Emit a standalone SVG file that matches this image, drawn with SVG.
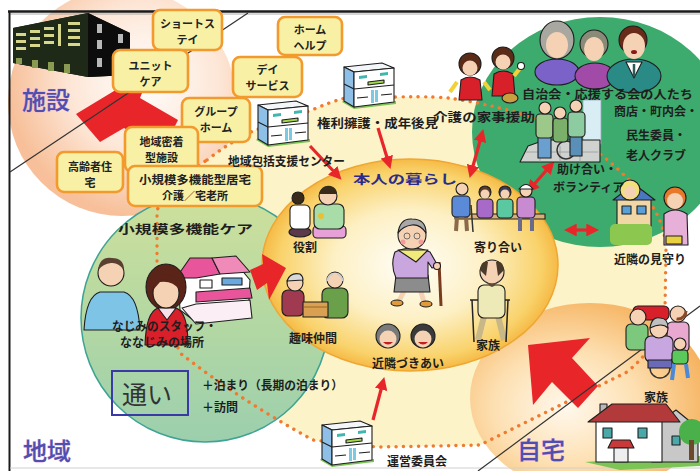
<svg xmlns="http://www.w3.org/2000/svg" width="700" height="471" viewBox="0 0 700 471">
<defs>
<style>
.lbl{font-family:"Noto Sans CJK JP","Noto Sans",sans-serif;font-weight:700;fill:#1e1e1e;font-size:12px}
.box rect{fill:#f8f0a4;stroke:#f29a2e;stroke-width:2.6}
.box text{font-family:"Noto Sans CJK JP","Noto Sans",sans-serif;font-weight:700;font-size:11px;fill:#222;text-anchor:middle}
.area{font-family:"Noto Sans CJK JP","Noto Sans",sans-serif;font-weight:500;font-size:24px;fill:#4f4fae;stroke:#e0a6de;stroke-width:0.7;paint-order:stroke}
.ol{stroke:#1e1e1e;stroke-width:1.1;stroke-linejoin:round}
.skin{fill:#f6d2b4}
.dots{fill:none;stroke:#f07a2e;stroke-width:3.4;stroke-linecap:round;stroke-dasharray:0.1 7.4}
.arr{stroke:#e8262a;stroke-width:3.2;fill:none}
.mid{text-anchor:middle}
</style>
<radialGradient id="gPeach" cx="0.6" cy="0.4" r="0.6">
<stop offset="0" stop-color="#ffffff"/>
<stop offset="0.55" stop-color="#fde6d6"/>
<stop offset="1" stop-color="#f7c09a"/>
</radialGradient>
<radialGradient id="gHome" cx="0.4" cy="0.55" r="0.6">
<stop offset="0" stop-color="#fff8ec"/>
<stop offset="0.5" stop-color="#fde0b2"/>
<stop offset="1" stop-color="#f6b462"/>
</radialGradient>
<radialGradient id="gCore" cx="0.5" cy="0.5" r="0.52">
<stop offset="0" stop-color="#fffef8"/>
<stop offset="0.5" stop-color="#fdf0c4"/>
<stop offset="0.85" stop-color="#f9d26a"/>
<stop offset="1" stop-color="#f4b23a"/>
</radialGradient>
<linearGradient id="gCare" x1="0" y1="0" x2="0" y2="1">
<stop offset="0" stop-color="#cfe09c"/>
<stop offset="0.5" stop-color="#b4d8a2"/>
<stop offset="1" stop-color="#9ccfae"/>
</linearGradient>
<marker id="ah" viewBox="0 0 10 10" refX="6" refY="5" markerWidth="4" markerHeight="4" orient="auto-start-reverse">
<path d="M0,0 L10,5 L0,10 z" fill="#e8262a"/>
</marker>
<g id="office">
<polygon points="0,40 12,47 54,42 54,39 12,44 2,38" fill="#7cc456"/>
<polygon points="2,5 40,1 52,6 12,10" fill="#f3f7fa" class="ol"/>
<polygon points="2,5 12,10 12,45 2,39" fill="#8ebfe6" class="ol"/>
<polygon points="12,10 52,6 52,40 12,45" fill="#ffffff" class="ol"/>
<line x1="12" y1="27" x2="52" y2="23" class="ol"/>
<line x1="2" y1="22" x2="12" y2="27" class="ol"/>
<polygon points="17,14 25,13 25,16 17,17" fill="#3fb6b0"/>
<polygon points="38,11 46,10 46,13 38,14" fill="#3fb6b0"/>
<polygon points="26,20 42,18 42,21 26,23" fill="#a6d84a" class="ol"/>
<rect x="29" y="28" width="3" height="13" fill="#7cc9e0"/>
<rect x="33" y="28" width="3" height="12" fill="#7cc9e0"/>
<line x1="15" y1="36" x2="26" y2="35" class="ol"/>
<line x1="39" y1="33" x2="50" y2="32" class="ol"/>
</g>
</defs>

<rect width="700" height="471" fill="#ffffff"/>

<!-- areas -->
<g id="areas">
<circle cx="122" cy="102" r="114" fill="url(#gPeach)"/>
<path d="M207,160 Q230,142 253,131 L312,110 Q330,102 345,98 L395,97 Q440,96 455,99 Q500,106 540,120 Q590,140 627,178 Q665,210 666,250 L665,310 Q660,345 627,372 L480,445 Q440,446 377,447 L313,440 Q240,400 180,353 Q160,300 157,265 L157,210 Q175,180 207,160 Z" fill="#fcf3c8"/>
<ellipse cx="590" cy="398" rx="120" ry="95" fill="url(#gHome)"/>
<ellipse cx="600" cy="132" rx="128" ry="115" fill="#3dab6d"/>
<circle cx="205" cy="318" r="124" fill="url(#gCare)" stroke="#3fa394" stroke-width="1.5"/>
<ellipse cx="410" cy="265" rx="148" ry="106" fill="url(#gCore)" stroke="#f0a632" stroke-width="1.5"/>
<path class="dots" d="M207,160 Q230,142 253,131 L312,110 Q330,102 345,98 L395,97 Q440,96 455,99 Q500,106 540,120 Q590,140 627,178 Q665,210 666,250 L665,310 Q660,345 627,372 L480,445 Q440,446 377,447 L313,440 Q240,400 180,353 Q160,300 157,265 L157,210 Q175,180 207,160"/>
</g>

<!-- frame -->
<g id="frame" fill="none">
<line x1="8" y1="11.5" x2="700" y2="11.5" stroke="#1a1a1a" stroke-width="2.5"/>
<line x1="10" y1="14" x2="700" y2="14" stroke="#9a9a9a" stroke-width="0.8"/>
<line x1="9.5" y1="11" x2="9.5" y2="471" stroke="#1a1a1a" stroke-width="2"/>
<line x1="10" y1="468" x2="700" y2="468" stroke="#d0d0d0" stroke-width="1"/>
</g>

<!-- facility building -->
<g id="facility-building">
<polygon points="13,28 88,13 130,33 130,75 88,77 13,63" fill="#111611"/>
<polygon points="13,28 88,13 88,77 13,63" fill="#1e2a17"/>
<polygon points="88,13 130,33 130,75 88,77" fill="#0c0c0c"/>
<g fill="#d6d78a">
<rect x="16" y="33" width="10" height="3"/><rect x="16" y="40" width="10" height="3"/><rect x="16" y="47" width="10" height="3"/>
<rect x="30" y="30" width="10" height="3"/><rect x="30" y="37" width="10" height="3"/><rect x="30" y="44" width="10" height="3"/>
<rect x="44" y="27" width="10" height="3"/><rect x="44" y="34" width="10" height="3"/><rect x="44" y="41" width="10" height="3"/>
<rect x="58" y="24" width="3" height="22"/>
<rect x="68" y="22" width="12" height="3"/><rect x="68" y="29" width="12" height="3"/><rect x="68" y="36" width="12" height="3"/><rect x="68" y="43" width="12" height="3"/>
</g>
<g fill="#8a9a50"><rect x="16" y="58" width="6" height="6"/><rect x="32" y="60" width="6" height="8"/><rect x="48" y="62" width="6" height="9"/><rect x="64" y="64" width="6" height="9"/></g>
<g fill="#b8b8b8"><rect x="97" y="24" width="5" height="9"/><rect x="97" y="40" width="5" height="9"/><rect x="97" y="58" width="5" height="9"/><rect x="118" y="34" width="5" height="9"/><rect x="118" y="50" width="5" height="9"/></g>
</g>

<!-- large arrows -->
<g id="big-arrows" fill="#e8262a">
<polygon points="76,114 152,68 140,98 178,120 162,152 124,128 100,142"/>
<polygon points="286,268 262,254 263,264 250,270 257,290 267,283 269,300"/>
<polygon points="528,345 590,338 572,358 598,386 578,408 552,382 533,405"/>
</g>

<!-- dividing lines -->
<g id="dividers" stroke="#333" stroke-width="1.2">
<line x1="248" y1="13" x2="10" y2="172"/>
<line x1="700" y1="306" x2="478" y2="471"/>
</g>

<!-- connectors -->
<g id="connectors">
<line class="arr" x1="310" y1="146" x2="338" y2="176" marker-end="url(#ah)"/>
<line class="arr" x1="378" y1="128" x2="389" y2="164" marker-end="url(#ah)"/>
<line class="arr" x1="482" y1="134" x2="471" y2="173" marker-start="url(#ah)" marker-end="url(#ah)"/>
<line class="arr" x1="551" y1="165" x2="530" y2="189" marker-start="url(#ah)" marker-end="url(#ah)"/>
<line class="arr" x1="569" y1="230" x2="594" y2="230" marker-start="url(#ah)" marker-end="url(#ah)"/>
<line class="arr" x1="373" y1="420" x2="383" y2="382" marker-end="url(#ah)"/>
</g>

<!-- offices -->
<g id="center-office"><use href="#office" x="256" y="100"/></g>
<g id="rights-office"><use href="#office" x="342" y="62"/></g>
<g id="committee-office"><use href="#office" x="320" y="420"/></g>

<!-- helpers (housework) -->
<g id="housework-figures">
<path d="M459,100 L461,80 Q470,74 480,80 L482,100 Z" fill="#d8202a" class="ol"/>
<path d="M457,82 L450,92 M484,82 L490,90" stroke="#f2d23a" stroke-width="4"/>
<circle cx="470" cy="64" r="11" fill="#5a2c18" class="ol"/>
<circle cx="470" cy="68" r="7.5" class="skin"/>
<path d="M492,96 L494,74 Q503,68 513,74 L515,96 Z" fill="#d8202a" class="ol"/>
<path d="M514,76 L520,68" stroke="#f2d23a" stroke-width="4"/>
<circle cx="521" cy="66" r="3.5" fill="#fff" class="ol"/>
<circle cx="503" cy="58" r="11" fill="#5a2c18" class="ol"/>
<circle cx="503" cy="62" r="7.5" class="skin"/>
<ellipse cx="510" cy="98" rx="8" ry="5" fill="#c8a040" class="ol"/>
</g>

<!-- association members -->
<g id="association-figures">
<ellipse cx="557" cy="72" rx="22" ry="13" fill="#7a62c8" class="ol"/>
<ellipse cx="557" cy="40" rx="17" ry="19" fill="#a8a8a0" class="ol"/>
<ellipse cx="557" cy="45" rx="11" ry="13" class="skin"/>
<ellipse cx="595" cy="76" rx="20" ry="13" fill="#a24aa8" class="ol"/>
<circle cx="594" cy="44" r="14" fill="#8a8a78" class="ol"/>
<ellipse cx="594" cy="49" rx="10" ry="12" class="skin"/>
<ellipse cx="634" cy="76" rx="27" ry="17" fill="#2a8a86" class="ol"/>
<polygon points="626,62 642,62 634,78" fill="#ffffff" class="ol"/>
<line x1="634" y1="64" x2="634" y2="76" stroke="#2a5a5a" stroke-width="2.5"/>
<circle cx="633" cy="40" r="14" fill="#6a2a1a" class="ol"/>
<ellipse cx="634" cy="46" rx="11" ry="13" class="skin"/>
<ellipse cx="634" cy="52" rx="3" ry="2" fill="#8a1a1a"/>
</g>

<!-- mutual aid scene -->
<g id="aid-scene">
<rect x="583" y="100" width="18" height="44" fill="#d8eef4" stroke="#9ab" stroke-width="0.8"/>
<polygon points="520,162 528,146 545,140 600,140 600,162" fill="#cfd2cf" class="ol"/>
<path d="M526,152 L598,152 M540,146 L540,162 M560,146 L560,162 M580,146 L580,162" stroke="#999" stroke-width="0.8"/>
<rect x="538" y="136" width="13" height="22" fill="#6aa0d0" class="ol"/>
<rect x="536" y="114" width="17" height="24" rx="4" fill="#9cc88a" class="ol"/>
<circle cx="545" cy="108" r="6" class="skin ol"/>
<circle cx="566" cy="150" r="9" fill="none" stroke="#333" stroke-width="1.5"/>
<rect x="553" y="118" width="15" height="24" rx="4" fill="#7ab06a" class="ol"/>
<circle cx="560" cy="113" r="6" class="skin ol"/>
<rect x="570" y="134" width="12" height="22" fill="#5a8fb8" class="ol"/>
<rect x="568" y="112" width="17" height="25" rx="4" fill="#8ccca0" class="ol"/>
<circle cx="576" cy="106" r="6" class="skin ol"/>
</g>

<!-- neighbour watch figures -->
<g id="watch-figures">
<rect x="617" y="198" width="34" height="28" fill="#f1d6a6" class="ol"/>
<polygon points="613,200 634,184 655,200" fill="#4a78c0" class="ol"/>
<rect x="622" y="206" width="9" height="8" fill="#5aa0d8" class="ol"/>
<rect x="637" y="206" width="9" height="8" fill="#5aa0d8" class="ol"/>
<circle cx="630" cy="190" r="10" fill="#f2e07a" class="ol"/>
<circle cx="630" cy="192" r="6" class="skin"/>
<rect x="610" y="224" width="42" height="21" rx="5" fill="#8cc850"/>
<path d="M664,245 L664,214 Q675,206 687,214 L688,245 Z" fill="#e6b0d8" class="ol"/>
<circle cx="675" cy="198" r="11" fill="#e8782a" class="ol"/>
<circle cx="675" cy="201" r="8" class="skin"/>
<rect x="666" y="236" width="16" height="8" fill="#e8d040" class="ol"/>
</g>

<!-- gathering figures -->
<g id="gathering-figures">
<rect x="455" y="214" width="90" height="5" fill="#d8b070" class="ol"/>
<path d="M457,217 L456,231 M466,217 L467,231" stroke="#8a6a4a" stroke-width="4"/>
<rect x="452" y="196" width="18" height="21" rx="4" fill="#5a8ad8" class="ol"/>
<line x1="471" y1="205" x2="473" y2="232" stroke="#333" stroke-width="1.5"/>
<circle cx="462" cy="189" r="6" class="skin ol"/>
<rect x="477" y="199" width="16" height="19" rx="4" fill="#a86ac8" class="ol"/>
<circle cx="485" cy="192" r="6" fill="#5a3a2a" class="ol"/><circle cx="485" cy="194" r="4.5" class="skin"/>
<rect x="497" y="199" width="16" height="19" rx="4" fill="#5ac8a0" class="ol"/>
<circle cx="505" cy="192" r="6" fill="#3a3a5a" class="ol"/><circle cx="505" cy="194" r="4.5" class="skin"/>
<rect x="517" y="197" width="18" height="21" rx="4" fill="#c88ad0" class="ol"/>
<circle cx="526" cy="191" r="6" class="skin ol"/>
<path d="M519,189 Q526,180 533,189 Z" fill="#ffffff" class="ol"/>
<path d="M520,218 L520,231 M532,218 L532,231" stroke="#6a6a8a" stroke-width="4"/>
</g>

<!-- central elder -->
<g id="elder-figure">
<line x1="439" y1="262" x2="441" y2="306" stroke="#7a3a1e" stroke-width="3"/>
<path d="M405,289 L399,301 M420,289 L424,302" stroke="#f6d2b4" stroke-width="5"/>
<ellipse cx="397" cy="303" rx="6" ry="3" fill="#e09a3a" class="ol"/>
<ellipse cx="426" cy="304" rx="6" ry="3" fill="#e09a3a" class="ol"/>
<path d="M396,275 L428,275 L430,292 L394,292 Z" fill="#8c8c8c" class="ol"/>
<path d="M395,252 Q412,244 430,252 L438,266 L432,268 L428,262 L428,278 L396,278 Q390,265 395,252 Z" fill="#c9a6de" class="ol"/>
<circle cx="437" cy="266" r="3.5" class="skin ol"/>
<path d="M398,250 L428,250 L416,262 Z" fill="#f2ea7a" class="ol"/>
<circle cx="412" cy="235" r="14" class="skin ol"/>
<path d="M398,233 Q400,218 412,219 Q426,219 426,233 Q420,224 412,225 Q403,226 398,233 Z" fill="#a8a8a8" class="ol"/>
<circle cx="407" cy="236" r="3" fill="none" stroke="#555" stroke-width="0.8"/>
<circle cx="417" cy="236" r="3" fill="none" stroke="#555" stroke-width="0.8"/>
<circle cx="403" cy="242" r="2.5" fill="#f49a9a"/>
<circle cx="421" cy="242" r="2.5" fill="#f49a9a"/>
</g>

<!-- family elder with walker -->
<g id="family-elder-figure">
<path d="M484,316 L478,340 M498,316 L504,340" stroke="#c8b888" stroke-width="6"/>
<path d="M472,300 L474,342 M508,300 L506,342" stroke="#222" stroke-width="1.5"/>
<line x1="470" y1="300" x2="510" y2="300" stroke="#222" stroke-width="1.5"/>
<rect x="478" y="285" width="27" height="33" rx="6" fill="#eeeab8" class="ol"/>
<circle cx="492" cy="272" r="12" class="skin ol"/>
<path d="M480,270 Q481,260 488,262 L486,276 Z M504,270 Q503,260 496,262 L498,276 Z" fill="#4a3a2a"/>
<path d="M485,280 Q492,288 499,280 L496,284 Q492,290 488,284 Z" fill="#5a4a3a"/>
</g>

<!-- role figures -->
<g id="role-figures">
<ellipse cx="300" cy="232" rx="11" ry="5" fill="#5a3a4a" class="ol"/>
<rect x="290" y="205" width="20" height="24" rx="5" fill="#ffffff" class="ol"/>
<circle cx="298" cy="198" r="6" fill="#3a2a1a" class="ol"/>
<rect x="313" y="226" width="33" height="12" rx="4" fill="#e8a0d8" class="ol"/>
<rect x="314" y="204" width="30" height="25" rx="6" fill="#a8dca8" class="ol"/>
<circle cx="328" cy="196" r="9" class="skin ol"/>
<path d="M319,194 Q322,184 331,186 Q337,188 337,194 Z" fill="#3a2a1a"/>
<circle cx="321" cy="216" r="3" fill="#e8c030"/>
</g>

<!-- hobby figures -->
<g id="hobby-figures">
<rect x="282" y="290" width="22" height="26" rx="6" fill="#a03a50" class="ol"/>
<circle cx="295" cy="283" r="8" class="skin ol"/>
<path d="M287,281 Q290,272 300,274 Q303,276 303,280 Z" fill="#d8d8d8" class="ol"/>
<rect x="322" y="288" width="26" height="30" rx="6" fill="#6aa04a" class="ol"/>
<circle cx="335" cy="280" r="8" class="skin ol"/>
<path d="M327,281 Q329,274 333,274 M343,281 Q341,274 337,274" stroke="#ccc" stroke-width="2" fill="none"/>
<rect x="303" y="302" width="25" height="15" fill="#d8a050" class="ol"/>
<path d="M303,307 L328,307" stroke="#8a5a20" stroke-width="0.8"/>
</g>

<!-- neighbour faces -->
<g id="neighbour-faces">
<circle cx="388" cy="336" r="12" fill="#7a7a7a" class="ol"/>
<circle cx="388" cy="339" r="8.5" class="skin"/>
<path d="M383,342 Q388,347 393,342 Z" fill="#c02020"/>
<circle cx="423" cy="336" r="12" fill="#3a3a3a" class="ol"/>
<circle cx="423" cy="339" r="8.5" class="skin"/>
<path d="M418,342 Q423,347 428,342 Z" fill="#c02020"/>
</g>

<!-- small multi-function care figures -->
<g id="care-figures">
<path d="M84,330 Q86,296 100,292 L124,292 Q138,296 140,330 Z" fill="#7ec4e6" class="ol"/>
<circle cx="111" cy="273" r="13" class="skin ol"/>
<path d="M98,270 Q100,256 112,258 Q124,258 124,270 Q118,262 111,263 Q103,264 98,270 Z" fill="#5a4030"/>
<polygon points="178,276 192,260 210,260 218,272 240,268 250,280 248,318 196,322 180,310" fill="#ffffff" class="ol"/>
<polygon points="176,278 190,258 212,258 220,274 196,278" fill="#e8559a" class="ol"/>
<polygon points="212,258 236,256 250,272 220,274" fill="#f08ab8" class="ol"/>
<polygon points="196,292 250,288 252,298 196,302" fill="#e8559a" class="ol"/>
<rect x="200" y="280" width="12" height="8" fill="#ffffff" class="ol"/>
<rect x="222" y="278" width="20" height="7" fill="#6aa8e0" class="ol"/>
<rect x="222" y="305" width="14" height="10" fill="#6aa8e0" class="ol"/>
<polygon points="182,308 196,304 250,300 252,318 196,324" fill="#fbeef4" class="ol"/>
<ellipse cx="166" cy="287" rx="20" ry="23" fill="#5a2418" class="ol"/>
<path d="M145,345 Q146,312 158,308 L176,308 Q188,312 188,345 Z" fill="#d81f2a" class="ol"/>
<polygon points="158,308 176,308 167,320" fill="#f8e0e8" class="ol"/>
<ellipse cx="166" cy="293" rx="13" ry="15" class="skin ol"/>
<path d="M153,290 Q155,274 166,274 Q178,274 180,290 Q172,280 160,282 Z" fill="#5a2418"/>
</g>

<!-- home family figures -->
<g id="home-family-figures">
<rect x="633" y="306" width="36" height="14" rx="5" fill="#d8202a" class="ol"/>
<rect x="626" y="324" width="22" height="26" rx="5" fill="#7cc87c" class="ol"/>
<circle cx="638" cy="317" r="8" class="skin ol"/>
<rect x="667" y="322" width="22" height="30" rx="5" fill="#e8a8d0" class="ol"/>
<circle cx="678" cy="314" r="8" class="skin ol"/>
<circle cx="678" cy="311" r="8" fill="none" stroke="#8a4a2a" stroke-width="3" stroke-dasharray="14 40"/>
<circle cx="660" cy="368" r="10" fill="none" stroke="#333" stroke-width="1.5"/>
<rect x="645" y="336" width="28" height="26" rx="6" fill="#c8a6e0" class="ol"/>
<rect x="648" y="360" width="24" height="8" fill="#6a6ab8" class="ol"/>
<circle cx="659" cy="329" r="9" class="skin ol"/>
<path d="M650,328 Q652,316 660,318 Q668,318 668,328 Q662,322 650,328 Z" fill="#c0c0c0" class="ol"/>
<rect x="672" y="350" width="16" height="14" rx="4" fill="#5ac85a" class="ol"/>
<circle cx="680" cy="344" r="6" class="skin ol"/>
<path d="M674,364 L672,380 M686,364 L688,378" stroke="#4a8ad8" stroke-width="4"/>
</g>

<!-- home house -->
<g id="home-house">
<polygon points="585,462 620,470 700,466 700,456 640,458" fill="#7cc456"/>
<polygon points="652,428 676,410 698,428 698,462 652,462" fill="#c8c8c8" class="ol"/>
<rect x="596" y="420" width="66" height="42" fill="#ffffff" class="ol"/>
<rect x="600" y="404" width="7" height="12" fill="#b8b8b8" class="ol"/>
<polygon points="588,422 612,404 666,404 680,422" fill="#b33a3a" class="ol"/>
<rect x="603" y="428" width="9" height="10" fill="#4aa8a8" class="ol"/>
<rect x="638" y="428" width="9" height="10" fill="#4aa8a8" class="ol"/>
<polygon points="612,440 630,440 634,448 608,448" fill="#c83a3a" class="ol"/>
<rect x="614" y="448" width="14" height="14" fill="#eeeeee" class="ol"/>
<rect x="672" y="436" width="8" height="9" fill="#4aa8a8" class="ol"/>
<circle cx="692" cy="432" r="13" fill="#4ab04a"/>
<rect x="689" y="440" width="5" height="20" fill="#6a4a2a"/>
</g>

<!-- facility service boxes -->
<g id="short-stay" class="box"><rect x="153" y="10" width="69" height="40" rx="7"/><text x="187.5" y="28">ショートス</text><text x="187.5" y="44">テイ</text></g>
<g id="unit-care" class="box"><rect x="113" y="50" width="75" height="42" rx="7"/><text x="150.5" y="70">ユニット</text><text x="150.5" y="86">ケア</text></g>
<g id="home-help" class="box"><rect x="278" y="17" width="64" height="38" rx="7"/><text x="310" y="34">ホーム</text><text x="310" y="50">ヘルプ</text></g>
<g id="day-service" class="box"><rect x="233" y="57" width="69" height="40" rx="7"/><text x="267.5" y="74">デイ</text><text x="267.5" y="90">サービス</text></g>
<g id="group-home" class="box"><rect x="182" y="98" width="68" height="44" rx="7"/><text x="216" y="116">グループ</text><text x="216" y="132">ホーム</text></g>
<g id="community-facility" class="box"><rect x="125" y="127" width="73" height="45" rx="7"/><text x="161.5" y="146">地域密着</text><text x="161.5" y="162">型施設</text></g>
<g id="elderly-housing" class="box"><rect x="57" y="152" width="66" height="40" rx="7"/><text x="90" y="171">高齢者住</text><text x="90" y="187">宅</text></g>
<g id="small-multi-home" class="box"><rect x="128" y="166" width="134" height="40" rx="7"/><text x="195" y="184" textLength="112" lengthAdjust="spacingAndGlyphs">小規模多機能型居宅</text><text x="195" y="200">介護／宅老所</text></g>

<!-- area names -->
<g id="area-names">
<text class="area" x="22" y="109">施設</text>
<text class="area" x="23" y="460">地域</text>
<text class="area" x="517" y="459">自宅</text>
</g>

<!-- node labels -->
<g id="labels">
<text class="lbl" x="228" y="166" textLength="117" lengthAdjust="spacingAndGlyphs">地域包括支援センター</text>
<text class="lbl" x="317" y="128" font-size="13" textLength="121" lengthAdjust="spacingAndGlyphs">権利擁護・成年後見</text>
<text class="lbl" x="433" y="122" font-size="13" textLength="102" lengthAdjust="spacingAndGlyphs">介護の家事援助</text>
<text class="lbl" x="522" y="99" font-size="13" textLength="171" lengthAdjust="spacingAndGlyphs">自治会・応援する会の人たち</text>
<text class="lbl mid" x="656" y="116" font-size="11.5">商店・町内会・</text>
<text class="lbl mid" x="656" y="140" font-size="11.5">民生委員・</text>
<text class="lbl mid" x="656" y="160" font-size="11.5">老人クラブ</text>
<text class="lbl" x="557" y="174">助け合い・</text>
<text class="lbl" x="553" y="192">ボランティア</text>
<text class="lbl" x="353" y="184" font-size="18" style="fill:#2b2b8c" textLength="104" lengthAdjust="spacingAndGlyphs">本人の暮らし</text>
<text class="lbl mid" x="305" y="252">役割</text>
<text class="lbl mid" x="498" y="252">寄り合い</text>
<text class="lbl mid" x="313" y="343">趣味仲間</text>
<text class="lbl mid" x="408" y="368">近隣づきあい</text>
<text class="lbl mid" x="488" y="350">家族</text>
<text class="lbl mid" x="650" y="264">近隣の見守り</text>
<text class="lbl mid" x="656" y="402">家族</text>
<text class="lbl mid" x="417" y="466">運営委員会</text>
<text class="lbl" x="118" y="234" font-size="16" textLength="135" lengthAdjust="spacingAndGlyphs">小規模多機能ケア</text>
<text class="lbl" x="112" y="331" textLength="105" lengthAdjust="spacingAndGlyphs">なじみのスタッフ・</text>
<text class="lbl" x="120" y="347">ななじみの場所</text>
<text class="lbl" x="202" y="390" textLength="141" lengthAdjust="spacingAndGlyphs">＋泊まり（長期の泊まり）</text>
<text class="lbl" x="202" y="412">＋訪問</text>
</g>

<!-- day use -->
<g id="day-use">
<rect x="112" y="371" width="76" height="44" fill="none" stroke="#3a3aa6" stroke-width="2"/>
<text x="122" y="404" font-family="'Noto Sans CJK JP','Noto Sans',sans-serif" font-size="25" fill="#333">通い</text>
</g>
</svg>
